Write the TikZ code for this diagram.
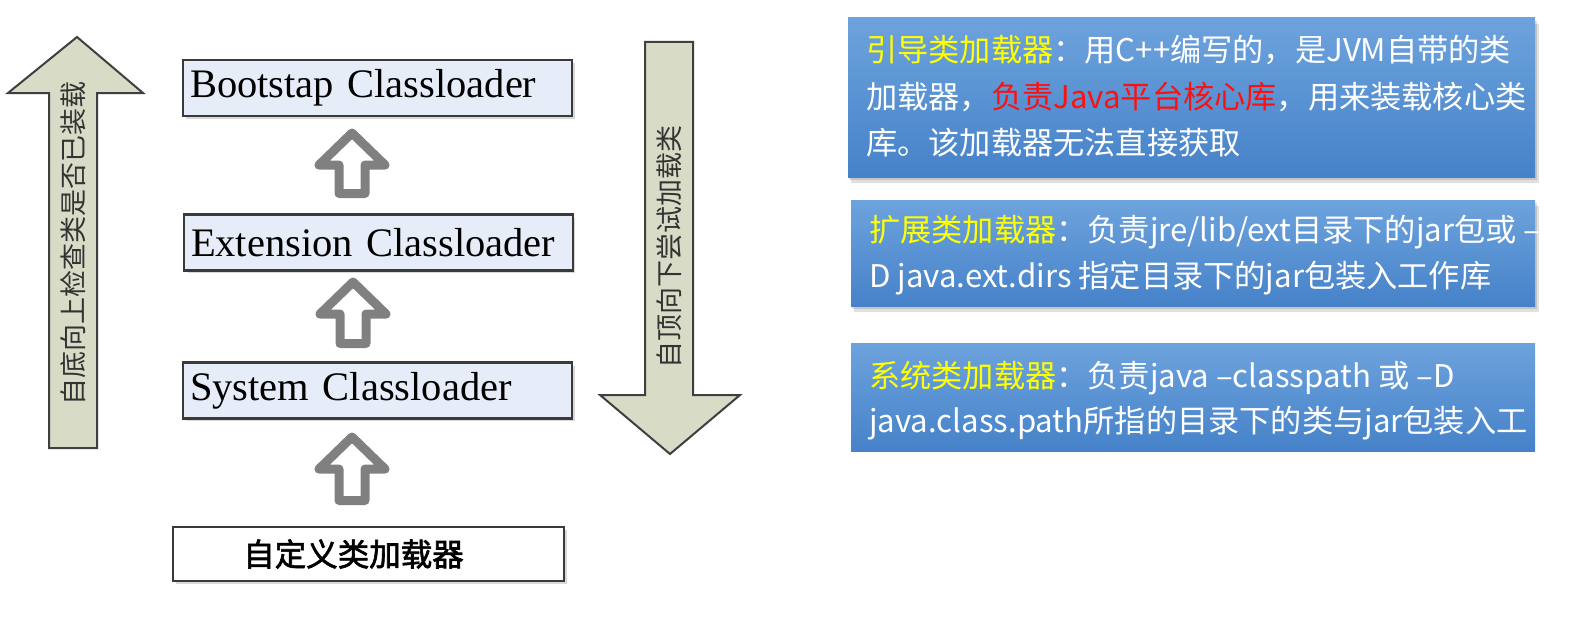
\documentclass[tikz,border=0pt]{standalone}
\usepackage{fontspec}
\setmainfont{Liberation Serif}
\newfontfamily\cjk{Noto Sans CJK SC}
\newfontfamily\cjkbold{Noto Sans CJK SC}[FakeBold=2]
\usetikzlibrary{calc}
\definecolor{arrowfill}{HTML}{D8DCC6}
\definecolor{arrowline}{HTML}{3F3F3F}
\definecolor{lboxfill}{HTML}{E7EDF8}
\definecolor{lboxline}{HTML}{3A3A3A}
\definecolor{hollowgray}{HTML}{808080}
\definecolor{btop}{HTML}{6DA3DD}
\definecolor{bbot}{HTML}{4682C9}
\definecolor{hdr}{HTML}{FFFF00}
\definecolor{redtxt}{HTML}{FF1010}
\tikzset{
  lbox/.style={draw=lboxline, line width=2.5pt, fill=lboxfill, minimum width=389pt, minimum height=56pt, inner sep=7pt, text width=375pt, align=left, font=\fontsize{40.5}{44}\selectfont},
  cbox/.style={draw=lboxline, line width=2.5pt, fill=white, minimum width=391pt, minimum height=54pt, font=\cjkbold\fontsize{31.5}{36}\selectfont},
  bigarrow/.style={draw=arrowline, line width=2pt, fill=arrowfill, line join=miter},
  hollow/.style={draw=hollowgray, line width=9pt, fill=white, line join=round},
  rbox/.style={top color=btop, bottom color=bbot, draw=none},
  rshadow/.style={fill=black, opacity=0.12},
  lshadow/.style={fill=black, opacity=0.15},
  rtext/.style={anchor=west, inner sep=0pt, text=white, font=\cjk\fontsize{31.2}{36}\selectfont},
  vtext/.style={rotate=90, inner sep=0pt, text=black!80, font=\cjk\fontsize{27}{30}\selectfont}
}
\newcommand\hollowup[3]{%
  \draw[hollow] (#1,#2+5) -- (#1+33,#2+37) -- (#1+13,#2+37) -- (#1+13,#3-4.5)
    -- (#1-13,#3-4.5) -- (#1-13,#2+37) -- (#1-33,#2+37) -- cycle;}
\begin{document}
\begin{tikzpicture}[x=1pt,y=-1pt]
\useasboundingbox (0,0) rectangle (1576,618);
\fill[white] (0,0) rectangle (1576,618);

% big left arrow (bottom-up check)
\draw[bigarrow] (77,37) -- (143,93) -- (97,93) -- (97,448) -- (49,448) -- (49,93) -- (8,93) -- cycle;
\node[vtext] (uptext) at (73,243) {自底向上检查类是否已装载};

% big right arrow (top-down load)
\draw[bigarrow] (645,42) -- (693,42) -- (693,395) -- (740,395) -- (670,454) -- (600,395) -- (645,395) -- cycle;
\node[vtext] (downtext) at (669,247) {自顶向下尝试加载类};

% shadows of class loader boxes
\fill[lshadow] (186,63) rectangle (575,119);
\fill[lshadow] (188,218) rectangle (575,273);
\fill[lshadow] (186,366) rectangle (575,421);
\fill[lshadow] (176,530) rectangle (567,584);

% class loader boxes
\node[lbox] (boot) at (377.5,88) {Bootstap Classloader};
\node[lbox, minimum width=387pt] (ext) at (378.5,242.5) {Extension Classloader};
\node[lbox] (sys) at (377.5,390.5) {System Classloader};
\node[cbox] (cust) at (368.5,554) {\hspace{-30pt}自定义类加载器};

% hollow arrows
\hollowup{352}{128}{198}
\hollowup{353}{277}{348}
\hollowup{352}{432}{505}

% right description boxes
\fill[rshadow] (851,24) rectangle (1539,183);
\fill[rshadow] (849,21) rectangle (1537,180);
\node[rbox, minimum width=687pt, minimum height=159pt, inner sep=0pt] (b1) at (1191.5,97.5) {};
\node[rtext] (b1l1) at (866,50) {\textcolor{hdr}{引导类加载器}：用C++编写的，是JVM自带的类};
\node[rtext] (b1l2) at (866,97) {加载器，\textcolor{redtxt}{负责Java平台核心库}，用来装载核心类};
\node[rtext] (b1l3) at (866,143) {库。该加载器无法直接获取};

\fill[rshadow] (854,206) rectangle (1539,312);
\fill[rshadow] (852,203) rectangle (1537,309);
\node[rbox, minimum width=684pt, minimum height=106pt, inner sep=0pt] (b2) at (1193,253) {};
\node[rtext] (b2l1) at (869,232) {\textcolor{hdr}{扩展类加载器}：负责jre/lib/ext目录下的jar包或 –};
\node[rtext] (b2l2) at (869,278) {D java.ext.dirs 指定目录下的jar包装入工作库};

\node[rbox, minimum width=684pt, minimum height=108pt, inner sep=0pt] (b3) at (1193,397) {};
\node[rtext] (b3l1) at (869,378) {\textcolor{hdr}{系统类加载器}：负责java –classpath 或 –D};
\node[rtext] (b3l2) at (869,423) {java.class.path所指的目录下的类与jar包装入工};
\end{tikzpicture}
\end{document}
